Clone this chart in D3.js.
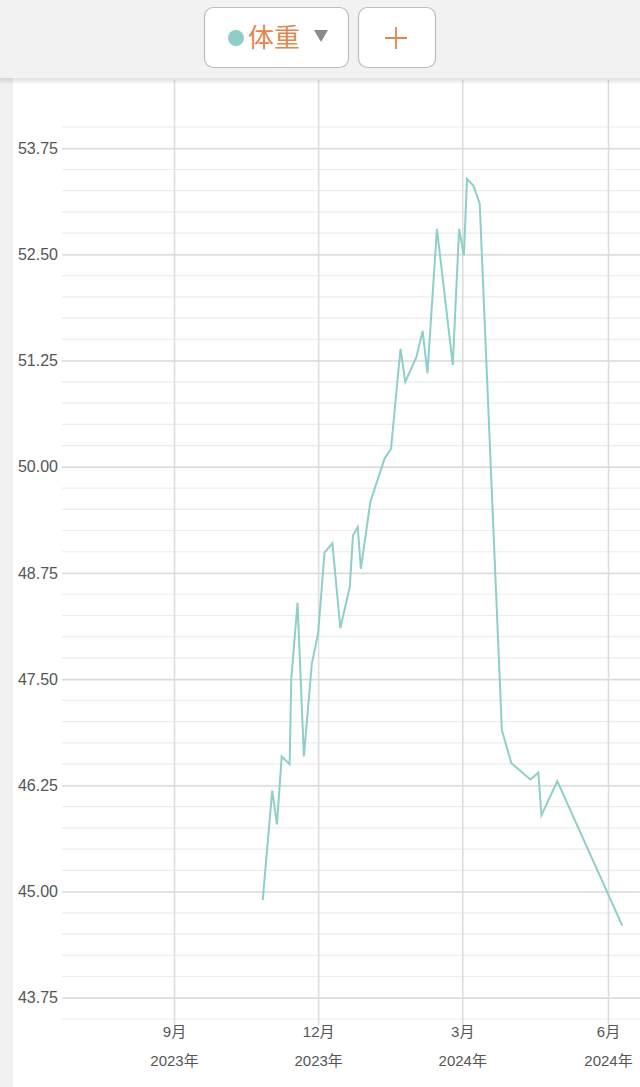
<!DOCTYPE html>
<html>
<head>
<meta charset="utf-8">
<script src="https://cdn.jsdelivr.net/npm/d3@7"></script>
<style>
  html, body { margin: 0; padding: 0; background: #f2f2f2; }
  svg { display: block; }
</style>
</head>
<body>
<svg id="chart"></svg>
<script>
const width = 640;
const height = 1087;

// weight records (date, kg)
const dates = [
    "2023-10-27", "2023-11-02", "2023-11-05", "2023-11-08", "2023-11-13", "2023-11-14",
    "2023-11-18", "2023-11-22", "2023-11-27", "2023-12-01", "2023-12-05", "2023-12-10",
    "2023-12-15", "2023-12-21", "2023-12-23", "2023-12-26", "2023-12-28", "2024-01-03",
    "2024-01-12", "2024-01-16", "2024-01-22", "2024-01-25", "2024-02-01", "2024-02-05",
    "2024-02-08", "2024-02-14", "2024-02-24", "2024-02-28", "2024-03-02", "2024-03-04",
    "2024-03-08", "2024-03-12", "2024-03-26", "2024-04-01", "2024-04-13", "2024-04-18",
    "2024-04-20", "2024-04-30", "2024-06-10"
];
const weights = [
    44.90, 46.19, 45.79, 46.59, 46.50, 47.49,
    48.40, 46.59, 47.68, 48.04, 48.99, 49.10,
    48.10, 48.59, 49.19, 49.29, 48.80, 49.59,
    50.10, 50.21, 51.39, 51.00, 51.29, 51.60,
    51.10, 52.80, 51.20, 52.80, 52.49, 53.39,
    53.31, 53.10, 46.90, 46.51, 46.32, 46.40,
    45.90, 46.30, 44.60
];

const yTicks = [43.75, 45.00, 46.25, 47.50, 48.75, 50.00, 51.25, 52.50, 53.75];
const xTickDates = ["2023-09-01", "2023-12-01", "2024-03-01", "2024-06-01"];
const xTickMonths = ["9月", "12月", "3月", "6月"];
const xTickYears = ["2023年", "2023年", "2024年", "2024年"];
const seriesName = "体重";

const parse = d3.timeParse("%Y-%m-%d");
const data = dates.map((d, i) => ({ date: parse(d), value: weights[i] }));

const plot = { left: 62, right: 640, top: 127, bottom: 1019 };

const x = d3.scaleTime()
    .domain([parse(xTickDates[0]), parse(xTickDates[3])])
    .range([174, 608]);

const y = d3.scaleLinear()
    .domain([43.5, 54.0])
    .range([plot.bottom, plot.top]);

const svg = d3.select("#chart").attr("width", width).attr("height", height);

// white panel with grey left strip
svg.append("rect")
    .attr("x", 0).attr("y", 0)
    .attr("width", width).attr("height", height)
    .attr("fill", "#f1f1f1");
svg.append("rect")
    .attr("x", 13).attr("y", 78)
    .attr("width", width - 13).attr("height", height - 78)
    .attr("fill", "#ffffff");

const grid = svg.append("g");

// minor horizontal lines every 0.25
grid.selectAll(".minor")
    .data(d3.range(43.5, 54.001, 0.25))
    .enter().append("line")
    .attr("x1", plot.left).attr("x2", plot.right)
    .attr("y1", d => y(d)).attr("y2", d => y(d))
    .attr("stroke", "#ececec")
    .attr("stroke-width", 1.2);

// major horizontal lines + labels
const yAxis = svg.append("g")
    .attr("transform", `translate(${plot.left},0)`)
    .call(d3.axisLeft(y).tickValues(yTicks).tickFormat(d3.format(".2f")).tickSize(0).tickPadding(4));
yAxis.select(".domain").remove();
yAxis.selectAll(".tick line")
    .attr("x2", plot.right - plot.left)
    .attr("stroke", "#dcdcdc")
    .attr("stroke-width", 1.5);
yAxis.selectAll(".tick text")
    .attr("fill", "#555")
    .style("font-family", "'Liberation Sans', Arial, sans-serif")
    .style("font-size", "16px");

// vertical month lines + two-line labels
const xAxis = svg.append("g")
    .attr("transform", `translate(0,${plot.bottom + 6})`)
    .call(d3.axisBottom(x).tickValues(xTickDates.map(parse)).tickSize(0).tickFormat(""));
xAxis.select(".domain").remove();
xAxis.selectAll(".tick line")
    .attr("y1", 0)
    .attr("y2", 80 - (plot.bottom + 6))
    .attr("stroke", "#dcdcdc")
    .attr("stroke-width", 1.5);
xAxis.selectAll(".tick text").remove();
xAxis.selectAll(".tick").each(function(d, i) {
    const t = d3.select(this).append("text")
        .attr("text-anchor", "middle")
        .attr("fill", "#555")
        .style("font-family", "'Liberation Sans', 'Noto Sans CJK JP', sans-serif")
        .style("font-size", "15px");
    t.append("tspan").attr("x", 0).attr("y", 12).text(xTickMonths[i]);
    t.append("tspan").attr("x", 0).attr("y", 41).text(xTickYears[i]);
});

// weight line
const line = d3.line()
    .x(d => x(d.date))
    .y(d => y(d.value));

svg.append("path")
    .datum(data)
    .attr("fill", "none")
    .attr("stroke", "#8ecfc9")
    .attr("stroke-width", 2)
    .attr("stroke-linejoin", "miter")
    .attr("d", line);

// header bar
const defs = svg.append("defs");
const shadow = defs.append("linearGradient")
    .attr("id", "shadow").attr("x1", 0).attr("x2", 0).attr("y1", 0).attr("y2", 1);
shadow.append("stop").attr("offset", "0%").attr("stop-color", "#000").attr("stop-opacity", 0.12);
shadow.append("stop").attr("offset", "100%").attr("stop-color", "#000").attr("stop-opacity", 0);

const header = svg.append("g");
header.append("rect")
    .attr("x", 0).attr("y", 0).attr("width", width).attr("height", 78)
    .attr("fill", "#f2f2f2");
header.append("rect")
    .attr("x", 0).attr("y", 78).attr("width", width).attr("height", 7)
    .attr("fill", "url(#shadow)");

header.append("rect")
    .attr("x", 204.5).attr("y", 7.5).attr("width", 144).attr("height", 60)
    .attr("rx", 9)
    .attr("fill", "#fff").attr("stroke", "#bdbdbd").attr("stroke-width", 1.2);
header.append("circle")
    .attr("cx", 236).attr("cy", 38).attr("r", 8)
    .attr("fill", "#8ecdc8");
header.append("text")
    .attr("x", 248).attr("y", 47)
    .attr("fill", "#e0874e")
    .style("font-family", "'Noto Sans CJK JP', sans-serif")
    .style("font-size", "26px")
    .text(seriesName);
header.append("path")
    .attr("d", "M314,30 L328,30 L321,42 Z")
    .attr("fill", "#8a8a8a");

header.append("rect")
    .attr("x", 358.5).attr("y", 7.5).attr("width", 77).attr("height", 60)
    .attr("rx", 9)
    .attr("fill", "#fff").attr("stroke", "#bdbdbd").attr("stroke-width", 1.2);
header.append("path")
    .attr("d", "M385,38 L407,38 M396,27 L396,49")
    .attr("stroke", "#e0874e")
    .attr("stroke-width", 1.8);
</script>
</body>
</html>
